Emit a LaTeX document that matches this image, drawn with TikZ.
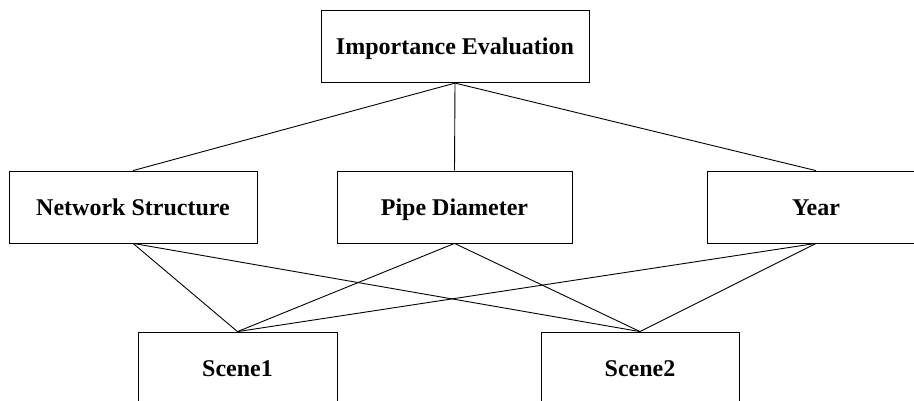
\documentclass[tikz,border=0pt]{standalone}
\usepackage{fontspec}
\setmainfont{Liberation Serif}
\begin{document}
\begin{tikzpicture}[x=1pt,y=-1pt,
  box/.style={draw=black,line width=0.8pt,rectangle,inner sep=0pt,text height=16pt,text depth=0pt,font=\fontsize{24}{28}\selectfont\bfseries},
  conn/.style={draw=black,line width=0.9pt}]
\useasboundingbox (0,0) rectangle (914,401);
\clip (0,0) rectangle (914,401);
\node[box,minimum width=268pt,minimum height=72pt] (top) at (455,46.7) {Importance Evaluation};
\node[box,minimum width=248pt,minimum height=72pt] (ns) at (133,207) {Network Structure};
\node[box,minimum width=235pt,minimum height=72pt] (pd) at (454.5,207) {Pipe Diameter};
\node[box,minimum width=218pt,minimum height=72pt] (yr) at (816,207) {Year};
\node[box,minimum width=199pt,minimum height=72pt] (s1) at (237.5,368) {Scene1};
\node[box,minimum width=198pt,minimum height=72pt] (s2) at (640,368) {Scene2};
\draw[conn] (top.south) -- (ns.north);
\draw[conn] (top.south) -- (pd.north);
\draw[conn] (top.south) -- (yr.north);
\foreach \a in {ns,pd,yr}{
  \draw[conn] (\a.south) -- (s1.north);
  \draw[conn] (\a.south) -- (s2.north);
}
\end{tikzpicture}
\end{document}
